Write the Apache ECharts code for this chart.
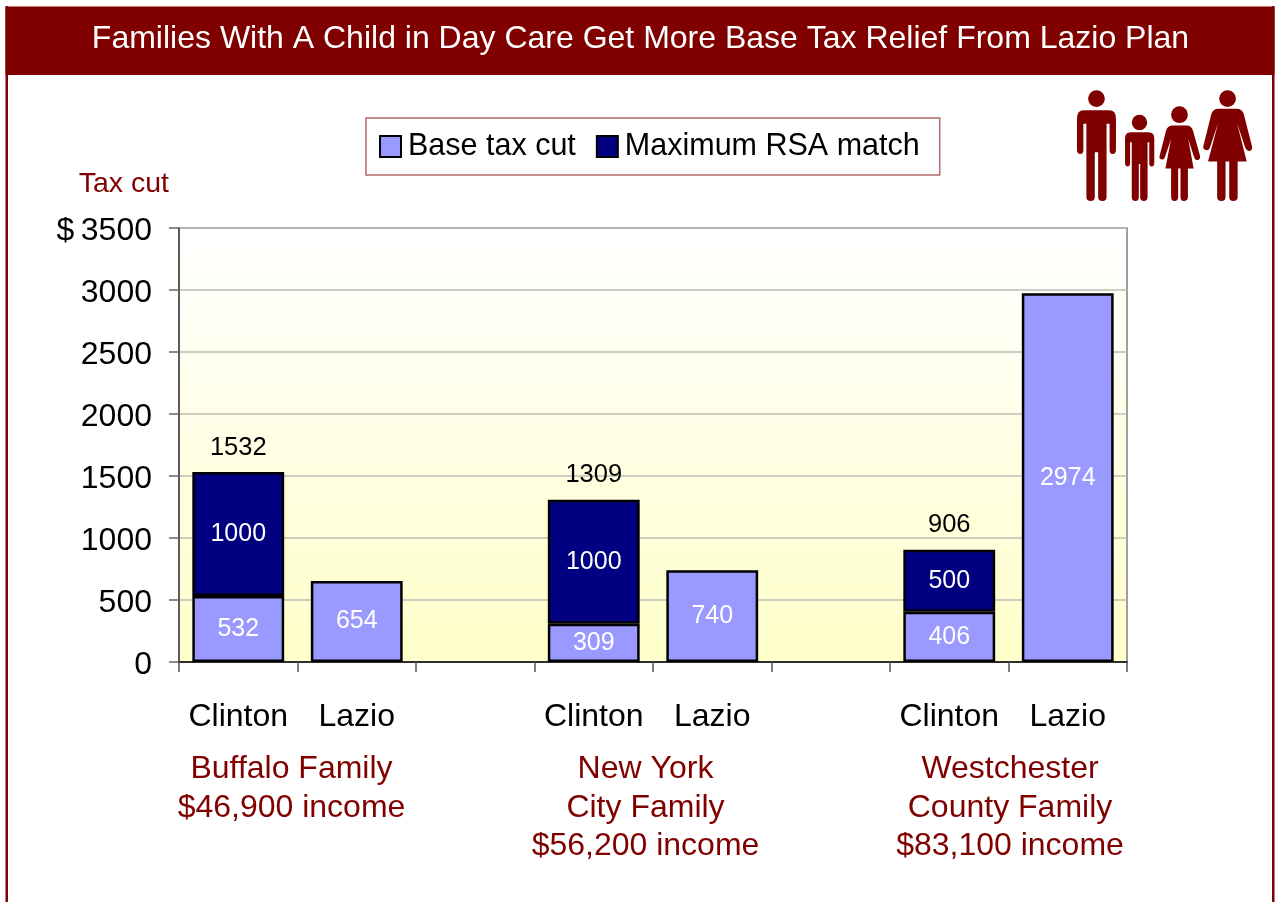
<!DOCTYPE html>
<html>
<head>
<meta charset="utf-8">
<title>Families With A Child in Day Care</title>
<style>html,body{margin:0;padding:0;background:#fff}#chart{width:1277px;height:902px}</style>
<script src="https://cdn.jsdelivr.net/npm/echarts@6/dist/echarts.min.js"></script>
</head>
<body>
<div id="chart"></div>
<script>
// One slot per bar, with an empty slot between each family.
const categories = ['Clinton', 'Lazio', '', 'Clinton', 'Lazio', '', 'Clinton', 'Lazio'];
const baseTaxCut = [532, 654, null, 309, 740, null, 406, 2974];
const rsaMatch = [1000, null, null, 1000, null, null, 500, null];
const clintonTotals = [1532, null, null, 1309, null, null, 906, null];
const familyLabels = [
  'Buffalo Family\n$46,900 income',
  'New York\nCity Family\n$56,200 income',
  'Westchester\nCounty Family\n$83,100 income'
];
const familyCentres = [291.5, 645.5, 1010];
const titleText = 'Families With A Child in Day Care Get More Base Tax Relief From Lazio Plan';

const MAROON = '#800000';
const FONT = '"Liberation Sans", Arial, sans-serif';

// Family pictogram: man, boy, girl, woman.
const figurePaths = [
  'M130,120 H206 Q226,120 226,145 V238 Q226,250 216,250 Q207,250 207,238 V160 H198 V378 Q198,390 186,390 Q173,390 173,378 V245 H163 V378 Q163,390 151,390 Q138,390 138,378 V160 H129 V238 Q129,250 120,250 Q110,250 110,238 V145 Q110,120 130,120 Z',
  'M270,185 H323 Q340,185 340,203 V277 Q340,287 332,287 Q325,287 325,277 V215 H320 V378 Q320,390 309,390 Q298,390 298,378 V280 H294 V378 Q294,390 284,390 Q273,390 273,378 V215 H268 V277 Q268,287 261,287 Q253,287 253,277 V203 Q253,185 270,185 Z',
  'M395,165 H436 Q450,165 455,180 L476,255 Q478,267 468,268 Q461,268 458,258 L441,205 L457,293 H440 V378 Q440,390 428,390 Q418,390 418,378 V293 H411 V378 Q411,390 400,390 Q390,390 390,378 V293 H373 L390,205 L372,258 Q369,268 362,266 Q353,264 356,255 L375,180 Q380,165 395,165 Z',
  'M530,115 H586 Q600,115 606,130 L631,228 Q632,240 622,241 Q615,241 611,232 L586,158 L615,272 H588 V378 Q588,390 575,390 Q563,390 563,378 V272 H552 V378 Q552,390 540,390 Q527,390 527,378 V272 H500 L530,158 L505,232 Q501,241 493,238 Q484,235 486,226 L510,130 Q516,115 530,115 Z'
];
const figureHeads = [[168, 85, 25], [296, 156, 23], [415, 133, 25], [558, 85, 25]];

const chart = echarts.init(document.getElementById('chart'), null, { renderer: 'canvas' });

chart.setOption({
  animation: false,
  backgroundColor: '#ffffff',
  textStyle: { fontFamily: FONT },
  grid: {
    left: 179, top: 228, width: 948, height: 434,
    show: true,
    borderColor: '#808080',
    borderWidth: 1.5,
    backgroundColor: {
      type: 'linear', x: 0, y: 0, x2: 0, y2: 1,
      colorStops: [
        { offset: 0, color: '#ffffff' },
        { offset: 0.12, color: '#fffffa' },
        { offset: 0.95, color: '#ffffcc' },
        { offset: 1, color: '#ffffcc' }
      ]
    }
  },
  legend: {
    left: 366, top: 118,
    orient: 'horizontal',
    padding: [11, 20, 11, 13],
    icon: 'rect',
    itemWidth: 21, itemHeight: 21, itemGap: 20,
    borderColor: '#b46a6a', borderWidth: 1.5,
    selectedMode: false,
    data: ['Base tax cut', 'Maximum RSA match'],
    textStyle: { fontSize: 30.5, lineHeight: 31, color: '#000', fontFamily: FONT, verticalAlign: 'top', padding: [4, 0, 0, 2] }
  },
  xAxis: {
    type: 'category',
    data: categories,
    boundaryGap: true,
    axisLine: { lineStyle: { color: '#000', width: 1.5 } },
    axisTick: { show: true, length: 10, interval: 0, alignWithLabel: false, lineStyle: { color: '#555', width: 1.5 } },
    axisLabel: { interval: 0, margin: 39, fontSize: 32, color: '#000', fontFamily: FONT }
  },
  yAxis: {
    type: 'value',
    min: 0, max: 3500, interval: 500,
    name: 'Tax cut',
    nameLocation: 'end',
    nameGap: 29,
    nameTextStyle: { color: MAROON, fontSize: 28.5, align: 'right', padding: [0, 10, 0, 0], fontFamily: FONT },
    axisLine: { show: true, lineStyle: { color: '#444', width: 1.5 } },
    axisTick: { show: true, length: 10, lineStyle: { color: '#666', width: 1.5 } },
    axisLabel: {
      margin: 27, fontSize: 32, color: '#000', fontFamily: FONT,
      verticalAlign: 'top', padding: [-13, 0, 0, 0],
      formatter: v => (v === 3500 ? '$\u2009' + v : String(v))
    },
    splitLine: { show: true, lineStyle: { color: '#bdbdb5', width: 1.5 } }
  },
  series: [
    {
      name: 'Base tax cut', type: 'bar', stack: 'cut', barWidth: '77.5%',
      data: baseTaxCut,
      itemStyle: { color: '#9999ff', borderColor: '#000', borderWidth: 2.5 },
      label: { show: true, position: 'inside', color: '#fff', fontSize: 25, fontFamily: FONT }
    },
    {
      name: 'Maximum RSA match', type: 'bar', stack: 'cut', barWidth: '77.5%',
      data: rsaMatch,
      itemStyle: { color: '#000080', borderColor: '#000', borderWidth: 2.5 },
      label: { show: true, position: 'inside', color: '#fff', fontSize: 25, fontFamily: FONT }
    },
    {
      name: 'Clinton total', type: 'scatter',
      data: clintonTotals,
      symbolSize: 1,
      itemStyle: { color: 'rgba(0,0,0,0)', opacity: 1 },
      label: { show: true, position: 'top', distance: 11, color: '#000', fontSize: 25.5, fontFamily: FONT }
    },
    {
      // Pictogram drawn in its own 705-wide coordinate space
      name: 'Family pictogram', type: 'custom',
      coordinateSystem: 'none',
      silent: true,
      data: [[0]],
      renderItem: () => ({
        type: 'group', x: 1040, y: 70, scaleX: 1 / 2.975, scaleY: 1 / 2.975,
        children: [
          ...figurePaths.map(pathData => ({
            type: 'path', shape: { pathData }, style: { fill: MAROON }
          })),
          ...figureHeads.map(h => ({
            type: 'circle', shape: { cx: h[0], cy: h[1], r: h[2] }, style: { fill: MAROON }
          }))
        ]
      })
    }
  ],
  graphic: [
    // Page frame and title banner
    { type: 'rect', shape: { x: 5.5, y: 6, width: 2.5, height: 896 }, style: { fill: MAROON } },
    { type: 'rect', shape: { x: 1272, y: 6, width: 2.5, height: 896 }, style: { fill: MAROON } },
    { type: 'rect', shape: { x: 5.5, y: 6.5, width: 1269, height: 68.5 }, style: { fill: MAROON } },
    {
      type: 'text', x: 640.5, y: 39,
      style: { text: titleText, fill: '#fff', font: '32px ' + FONT, textAlign: 'center', textVerticalAlign: 'middle' }
    },
    // Family descriptions under the axis
    ...familyLabels.map((text, i) => ({
      type: 'text', x: familyCentres[i], y: 750,
      style: { text, fill: MAROON, font: '32px ' + FONT, lineHeight: 38.5, textAlign: 'center', textVerticalAlign: 'top' }
    }))
  ]
});
</script>
</body>
</html>
